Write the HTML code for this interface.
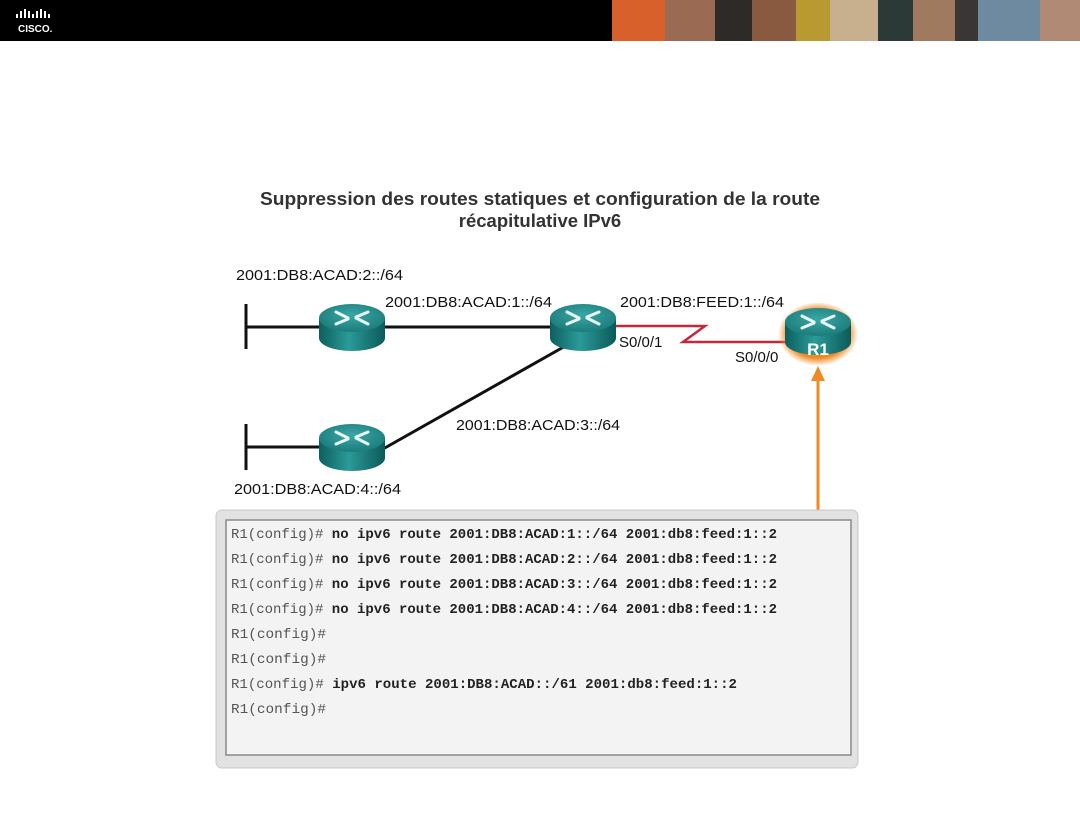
<!DOCTYPE html>
<html><head><meta charset="utf-8"><style>
html,body{margin:0;padding:0;background:#fff;}
body{width:1080px;height:810px;position:relative;overflow:hidden;font-family:"Liberation Sans",Arial,sans-serif;}
</style></head><body>
<svg width="1080" height="810" viewBox="0 0 1080 810" xmlns="http://www.w3.org/2000/svg">
<defs>
<linearGradient id="body" x1="0" x2="1" y1="0" y2="0">
<stop offset="0" stop-color="#0d5f5f"/><stop offset="0.45" stop-color="#2a9a98"/><stop offset="1" stop-color="#0b5a5a"/>
</linearGradient>
<radialGradient id="top" cx="0.5" cy="0.4" r="0.6">
<stop offset="0" stop-color="#3aa7a5"/><stop offset="1" stop-color="#1b7c7b"/>
</radialGradient>
<radialGradient id="glow" cx="0.5" cy="0.5" r="0.5">
<stop offset="0.75" stop-color="#f08a24"/><stop offset="1" stop-color="#f08a24" stop-opacity="0"/>
</radialGradient>
<g id="rt">
<ellipse cx="0" cy="20" rx="33" ry="13" fill="url(#body)"/>
<rect x="-33" y="0" width="66" height="20" fill="url(#body)"/>
<ellipse cx="0" cy="0" rx="33" ry="14" fill="url(#top)"/>
<g stroke="#e8f4f4" stroke-width="3" stroke-linecap="round">
<line x1="-16" y1="-6" x2="-4" y2="0"/><line x1="16" y1="6" x2="4" y2="0"/>
<line x1="-16" y1="6" x2="-4" y2="1"/><line x1="16" y1="-6" x2="4" y2="-1"/>
</g>
</g>
</defs>
<rect x="0" y="0" width="1080" height="41" fill="#000"/>
<g fill="#fff">
<rect x="16" y="14" width="2" height="4"/><rect x="20" y="11" width="2" height="7"/><rect x="24" y="9" width="2" height="9"/><rect x="28" y="11" width="2" height="7"/><rect x="32" y="14" width="2" height="4"/><rect x="36" y="11" width="2" height="7"/><rect x="40" y="9" width="2" height="9"/><rect x="44" y="11" width="2" height="7"/><rect x="48" y="14" width="2" height="4"/>
</g>
<text x="18" y="32" fill="#fff" font-size="10" font-weight="bold">CISCO.</text>
<rect x="612" y="0" width="53" height="41" fill="#d8602a"/>
<rect x="665" y="0" width="50" height="41" fill="#9a6a52"/>
<rect x="715" y="0" width="37" height="41" fill="#2e2a28"/>
<rect x="752" y="0" width="44" height="41" fill="#8a5a40"/>
<rect x="796" y="0" width="34" height="41" fill="#b89a30"/>
<rect x="830" y="0" width="48" height="41" fill="#c8b08e"/>
<rect x="878" y="0" width="35" height="41" fill="#2b3a36"/>
<rect x="913" y="0" width="42" height="41" fill="#a07a5e"/>
<rect x="955" y="0" width="23" height="41" fill="#3a3635"/>
<rect x="978" y="0" width="62" height="41" fill="#6e8aa0"/>
<rect x="1040" y="0" width="40" height="41" fill="#b08a74"/>
<text x="260" y="205" font-size="18.5" font-weight="bold" fill="#333" textLength="560" lengthAdjust="spacingAndGlyphs">Suppression des routes statiques et configuration de la route</text>
<text x="540" y="227" text-anchor="middle" font-size="18.5" font-weight="bold" fill="#333">récapitulative IPv6</text>
<g stroke="#111" stroke-width="3">
<line x1="246" y1="304" x2="246" y2="349"/><line x1="246" y1="327" x2="583" y2="327"/>
<line x1="246" y1="424" x2="246" y2="470"/><line x1="246" y1="447" x2="352" y2="447"/>
<line x1="383" y1="449" x2="583" y2="336"/>
</g>
<polyline points="610,326 705,326 683,342 790,342" fill="none" stroke="#c4283a" stroke-width="2.5"/>
<use href="#rt" x="352" y="318"/>
<use href="#rt" x="583" y="318"/>
<use href="#rt" x="352" y="438"/>
<ellipse cx="818" cy="334" rx="40" ry="32" fill="url(#glow)"/>
<use href="#rt" x="818" y="322"/>
<text x="818" y="355" text-anchor="middle" font-size="17" font-weight="bold" fill="#fff">R1</text>
<g font-size="15" fill="#111" lengthAdjust="spacingAndGlyphs">
<text x="236" y="280" textLength="167" lengthAdjust="spacingAndGlyphs">2001:DB8:ACAD:2::/64</text>
<text x="385" y="307" textLength="167" lengthAdjust="spacingAndGlyphs">2001:DB8:ACAD:1::/64</text>
<text x="620" y="307" textLength="164" lengthAdjust="spacingAndGlyphs">2001:DB8:FEED:1::/64</text>
<text x="619" y="347">S0/0/1</text>
<text x="735" y="362">S0/0/0</text>
<text x="456" y="430" textLength="164" lengthAdjust="spacingAndGlyphs">2001:DB8:ACAD:3::/64</text>
<text x="234" y="494" textLength="167" lengthAdjust="spacingAndGlyphs">2001:DB8:ACAD:4::/64</text>
</g>
<line x1="818" y1="510" x2="818" y2="378" stroke="#f08a24" stroke-width="3"/>
<polygon points="818,366 811,381 825,381" fill="#f08a24"/>
<rect x="216" y="510" width="642" height="258" rx="6" fill="#e2e2e2" stroke="#c8c8c8"/>
<rect x="226" y="520" width="625" height="235" fill="#f3f3f3" stroke="#8a8a8a" stroke-width="1.5"/>
<g font-family="'Liberation Mono',monospace" font-size="13.5" fill="#222">
<text x="231" y="538" textLength="546" lengthAdjust="spacingAndGlyphs"><tspan fill="#555">R1(config)#</tspan> <tspan font-weight="bold">no ipv6 route 2001:DB8:ACAD:1::/64 2001:db8:feed:1::2</tspan></text>
<text x="231" y="563" textLength="546" lengthAdjust="spacingAndGlyphs"><tspan fill="#555">R1(config)#</tspan> <tspan font-weight="bold">no ipv6 route 2001:DB8:ACAD:2::/64 2001:db8:feed:1::2</tspan></text>
<text x="231" y="588" textLength="546" lengthAdjust="spacingAndGlyphs"><tspan fill="#555">R1(config)#</tspan> <tspan font-weight="bold">no ipv6 route 2001:DB8:ACAD:3::/64 2001:db8:feed:1::2</tspan></text>
<text x="231" y="613" textLength="546" lengthAdjust="spacingAndGlyphs"><tspan fill="#555">R1(config)#</tspan> <tspan font-weight="bold">no ipv6 route 2001:DB8:ACAD:4::/64 2001:db8:feed:1::2</tspan></text>
<text x="231" y="638" fill="#555" textLength="95" lengthAdjust="spacingAndGlyphs">R1(config)#</text>
<text x="231" y="663" fill="#555" textLength="95" lengthAdjust="spacingAndGlyphs">R1(config)#</text>
<text x="231" y="688" textLength="506" lengthAdjust="spacingAndGlyphs"><tspan fill="#555">R1(config)#</tspan> <tspan font-weight="bold">ipv6 route 2001:DB8:ACAD::/61 2001:db8:feed:1::2</tspan></text>
<text x="231" y="713" fill="#555" textLength="95" lengthAdjust="spacingAndGlyphs">R1(config)#</text>
</g>
</svg>
</body></html>
